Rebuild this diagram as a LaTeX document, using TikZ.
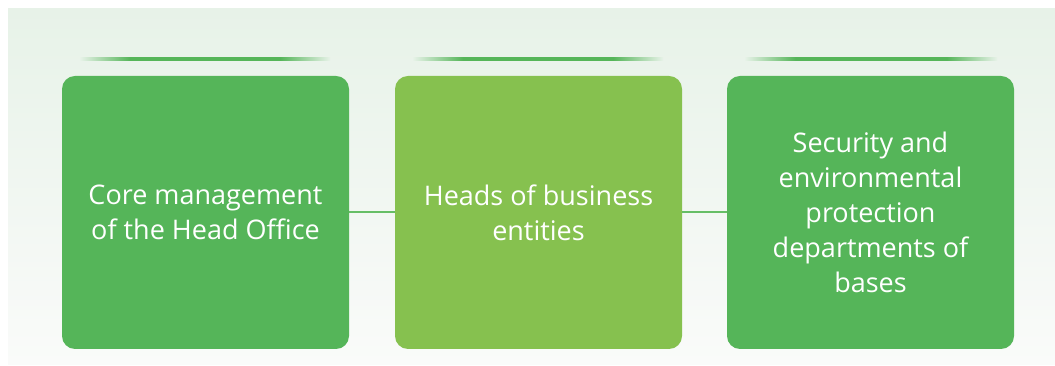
\documentclass[tikz,border=0pt]{standalone}
\usepackage{fontspec}
\setmainfont{Open Sans}
\definecolor{bgtop}{RGB}{231,242,232}
\definecolor{bgbot}{RGB}{250,251,250}
\definecolor{gdark}{RGB}{85,181,89}
\definecolor{glight}{RGB}{134,193,79}
\definecolor{conn}{RGB}{102,190,102}
\pgfdeclarehorizontalshading{fadeline}{100bp}{color(0bp)=(bgtop); color(25bp)=(bgtop); color(30bp)=(gdark!50!bgtop); color(35bp)=(gdark); color(65bp)=(gdark); color(70bp)=(gdark!50!bgtop); color(75bp)=(bgtop); color(100bp)=(bgtop)}
\begin{document}
\begin{tikzpicture}[x=1pt,y=1pt,
  box/.style={rounded corners=13pt, minimum width=287pt, minimum height=273pt,
    text=white, align=center, inner sep=0pt, font=\fontsize{27}{35}\selectfont},
  topline/.style={shading=fadeline, draw=none},
  link/.style={draw=conn, line width=2pt}]
\useasboundingbox (0,0) rectangle (1055,366);
\fill[white] (0,0) rectangle (1055,366);
\shade[top color=bgtop, bottom color=bgbot] (8,1) rectangle (1055,357);
\node[box, fill=gdark] (b1) at (205.5,153.5) {Core management\\of the Head Office};
\node[box, fill=glight] (b2) at (538.5,153.5) {Heads of business\\entities};
\node[box, fill=gdark] (b3) at (870.5,153.5) {Security and\\environmental\\protection\\departments of\\bases};
\draw[link] (b1.east) -- (b2.west);
\draw[link] (b2.east) -- (b3.west);
\shade[topline] (80,305.8) rectangle (330,308.2);
\shade[topline] (413,305.8) rectangle (663,308.2);
\shade[topline] (745,305.8) rectangle (997,308.2);
\end{tikzpicture}
\end{document}
